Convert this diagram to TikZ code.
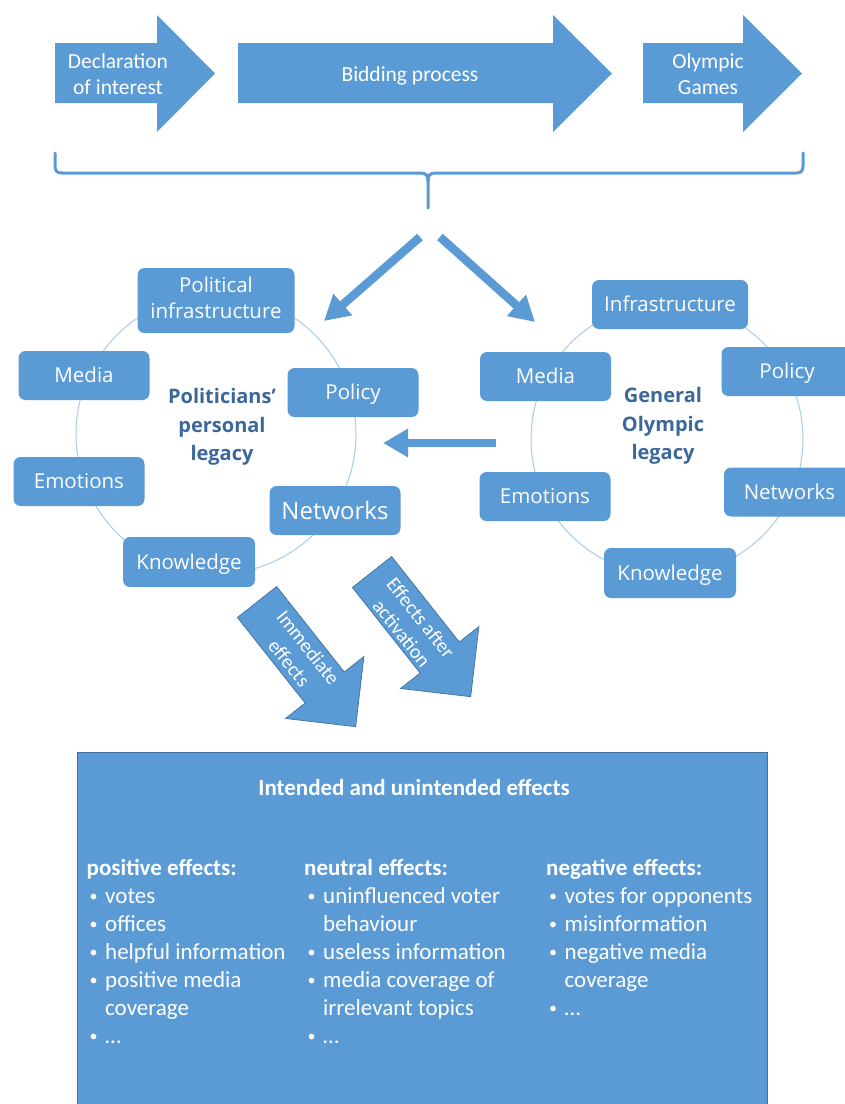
\documentclass[tikz,border=0pt]{standalone}
\usepackage{fontspec}
\setmainfont{Carlito}
\newfontfamily\osans{Open Sans}
\usetikzlibrary{arrows.meta}
\definecolor{accent}{HTML}{5B9BD5}
\definecolor{edgeb}{HTML}{41719C}
\definecolor{ringb}{HTML}{A9CAEA}
\definecolor{legtext}{HTML}{3B6898}
\newcommand\mybul{\makebox[17pt][l]{\hspace*{1.5pt}\raisebox{1.8pt}{\fontsize{16}{16}\selectfont\textbullet}}}
\newcommand\myind{\hspace*{17pt}}
\begin{document}
\begin{tikzpicture}[x=1pt,y=-1pt,
  blk/.style={fill=accent},
  blkline/.style={fill=accent,draw=edgeb,line width=0.7pt},
  atext/.style={text=white,font=\fontsize{21.5}{26}\selectfont,align=center,inner sep=0pt},
  dtext/.style={text=white,font=\fontsize{20}{24.4}\selectfont,align=center,inner sep=0pt,rotate=-51.5},
  cbox/.style={fill=accent,rounded corners=7pt,text=white,font=\osans\fontsize{20.5}{26}\selectfont,minimum width=131pt,minimum height=49pt,inner sep=0pt,align=center},
  oneline/.style={text height=14.7pt,text depth=0pt},
  ring/.style={draw=ringb,line width=1pt},
  legacy/.style={text=legtext,font=\osans\bfseries\fontsize{20}{28.5}\selectfont,align=center,inner sep=0pt},
  bigarrow/.style={draw=accent,line width=8.5pt,-{Triangle[length=25pt,width=27pt]}},
  brace/.style={draw=accent,line width=3pt,line cap=round},
  efftext/.style={text=white,font=\fontsize{23}{28}\selectfont,inner sep=0pt,anchor=base west},
]
\useasboundingbox (0,0) rectangle (845,1104);

% ---- top process arrows
\fill[blk] (55,43) -- (157,43) -- (157,15) -- (215,73.5) -- (157,132) -- (157,103) -- (55,103) -- cycle;
\fill[blk] (238,43) -- (553,43) -- (553,15) -- (612,73.5) -- (553,132) -- (553,103) -- (238,103) -- cycle;
\fill[blk] (643,43) -- (743,43) -- (743,15) -- (802,73.5) -- (743,132) -- (743,103) -- (643,103) -- cycle;
\node[atext] (decl) at (118,74) {Declaration\\of interest};
\node[atext,anchor=base] (bid) at (410,81) {Bidding process};
\node[atext] (games) at (708,74) {Olympic\\Games};

% ---- brace
\draw[brace] (55,153) -- (55,166) .. controls (55,171) and (57,173) .. (62,173) -- (420,173)
  .. controls (426,173) and (428,175) .. (428,181) -- (428,208);
\draw[brace] (428,181) .. controls (428,175) and (430,173) .. (436,173) -- (796,173)
  .. controls (801,173) and (803,171) .. (803,166) -- (803,153);

% ---- cycles
\draw[ring] (216,434) circle[radius=140pt];
\draw[ring] (667,439) circle[radius=136pt];

% left cycle
\node[cbox,minimum width=157pt,minimum height=65pt,text depth=5pt] (lpi) at (216,300.5) {Political\\infrastructure};
\node[cbox,oneline] (lmed) at (84,375.5) {Media};
\node[cbox,oneline] (lpol) at (353,392.5) {Policy};
\node[cbox,oneline] (lemo) at (79,481.5) {Emotions};
\node[cbox,text height=17.1pt,text depth=0pt,font=\osans\fontsize{24}{28}\selectfont] (lnet) at (335,510.5) {Networks};
\node[cbox,oneline,minimum width=132pt,minimum height=50pt] (lkno) at (189,562) {Knowledge};
\node[legacy] (lcen) at (222,427) {Politicians’\\personal\\legacy};

% right cycle
\node[cbox,oneline,minimum width=156pt] (rinf) at (670,304.5) {Infrastructure};
\node[cbox,oneline] (rmed) at (545.5,376.5) {Media};
\node[cbox,oneline] (rpol) at (787,371.5) {Policy};
\node[cbox,oneline] (remo) at (545,496.5) {Emotions};
\node[cbox,oneline] (rnet) at (789.5,492) {Networks};
\node[cbox,oneline,minimum width=132pt,minimum height=50pt] (rkno) at (670,573) {Knowledge};
\node[legacy] (rcen) at (663,426) {General\\Olympic\\legacy};

% ---- connecting arrows
\coordinate (la1) at (420,237);
\coordinate (la2) at (324,321);
\coordinate (ra1) at (440,237);
\coordinate (ra2) at (535,322);
\coordinate (ha1) at (496,443);
\coordinate (ha2) at (383,443);
\draw[bigarrow] (la1) -- (la2);
\draw[bigarrow] (ra1) -- (ra2);
\draw[bigarrow] (ha1) -- (ha2);

% ---- diagonal block arrows
\filldraw[blkline] (276.6,586.5) -- (344.3,672) -- (363.9,656.5) -- (355.7,726.7) -- (285.5,718.5) -- (305.1,703) -- (237.4,617.5) -- cycle;
\filldraw[blkline] (391.6,556.5) -- (459.3,642) -- (478.9,626.5) -- (470.7,696.7) -- (400.5,688.5) -- (420.1,673) -- (352.4,587.5) -- cycle;
\node[dtext] (imm) at (298.8,655.2) {Immediate\\effects};
\node[dtext] (act) at (411.3,625.7) {Effects after\\activation};

% ---- effects box
\filldraw[blkline] (77,752.5) rectangle (767,1112);
\node[text=white,font=\bfseries\fontsize{23}{28}\selectfont,inner sep=0pt,anchor=base] (ttl) at (414,795) {Intended and unintended effects};

\node[efftext,font=\bfseries\fontsize{23}{28}\selectfont] (h1) at (86.5,875) {positive effects:};
\node[efftext] (p1) at (88,903) {\mybul votes};
\node[efftext] (p2) at (88,931) {\mybul offices};
\node[efftext] (p3) at (88,959) {\mybul helpful information};
\node[efftext] (p4) at (88,987) {\mybul positive media};
\node[efftext] (p5) at (88,1015) {\myind coverage};
\node[efftext] (p6) at (88,1043) {\mybul …};

\node[efftext,font=\bfseries\fontsize{23}{28}\selectfont] (h2) at (304,875) {neutral effects:};
\node[efftext] (n1) at (306,903) {\mybul uninfluenced voter};
\node[efftext] (n2) at (306,931) {\myind behaviour};
\node[efftext] (n3) at (306,959) {\mybul useless information};
\node[efftext] (n4) at (306,987) {\mybul media coverage of};
\node[efftext] (n5) at (306,1015) {\myind irrelevant topics};
\node[efftext] (n6) at (306,1043) {\mybul …};

\node[efftext,font=\bfseries\fontsize{23}{28}\selectfont] (h3) at (546,875) {negative effects:};
\node[efftext] (g1) at (547.5,903) {\mybul votes for opponents};
\node[efftext] (g2) at (547.5,931) {\mybul misinformation};
\node[efftext] (g3) at (547.5,959) {\mybul negative media};
\node[efftext] (g4) at (547.5,987) {\myind coverage};
\node[efftext] (g5) at (547.5,1015) {\mybul …};
\end{tikzpicture}
\end{document}
